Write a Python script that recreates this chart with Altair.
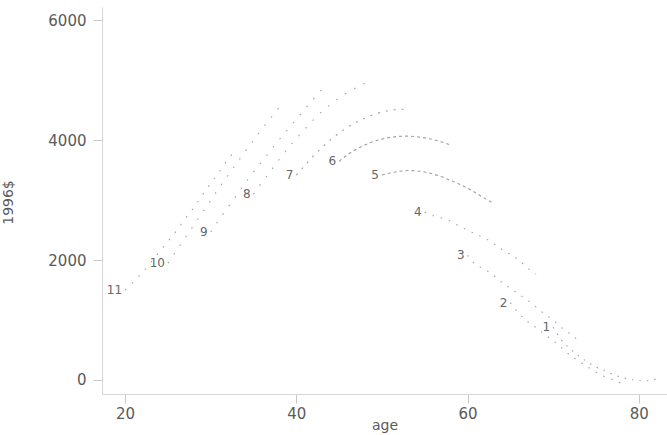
import altair as alt
import pandas as pd

# cohort start ages and age-profile values (1996$)
cohorts = ["1", "2", "3", "4", "5", "6", "7", "8", "9", "10", "11"]
start_ages = [70, 65, 60, 55, 50, 45, 40, 35, 30, 25, 20]

c1 = [880, 660, 520, 400, 300, 215, 160, 90, 45, 10, -15, -15, 15]
c2 = [1290, 1110, 980, 875, 760, 655, 535, 410, 310, 220, 130, 55, 5, -60]
c3 = [2080, 1920, 1850, 1750, 1630, 1530, 1430, 1330, 1220, 1100, 1000, 870, 770, 650]
c4 = [2800, 2740, 2700, 2650, 2570, 2500, 2430, 2370, 2280, 2180, 2100, 2000, 1870, 1770]
c5 = [3420, 3455, 3480, 3495, 3490, 3470, 3435, 3390, 3330, 3270, 3200, 3120, 3030, 2950]
c6 = [3650, 3760, 3850, 3920, 3980, 4020, 4050, 4065, 4070, 4060, 4040, 4010, 3970, 3920]
c7 = [3420, 3580, 3740, 3880, 4010, 4120, 4220, 4300, 4370, 4430, 4470, 4500, 4515, 4520]
c8 = [3100, 3300, 3490, 3680, 3860, 4030, 4190, 4340, 4480, 4600, 4710, 4800, 4880, 4950]
c9 = [2470, 2680, 2880, 3080, 3280, 3470, 3650, 3830, 4010, 4180, 4350, 4520, 4690, 4850]
c10 = [1950, 2160, 2370, 2580, 2790, 3000, 3210, 3410, 3610, 3810, 4000, 4190, 4370, 4550]
c11 = [1500, 1640, 1790, 1960, 2140, 2310, 2490, 2690, 2870, 3080, 3280, 3480, 3680, 3850]

series = [c1, c2, c3, c4, c5, c6, c7, c8, c9, c10, c11]

# line styles per cohort
dashes = {
    "1": [1.5, 6], "2": [1.5, 7], "3": [1.5, 7], "4": [1.5, 7],
    "5": [3, 3], "6": [3, 3], "7": [2, 6],
    "8": [1.5, 9], "9": [1.5, 9], "10": [1.5, 9], "11": [1.5, 8],
}

rows = []
for name, a0, vals in zip(cohorts, start_ages, series):
    for i, v in enumerate(vals):
        rows.append({"cohort": name, "age": a0 + i, "value": v})
df = pd.DataFrame(rows)
first = df.groupby("cohort", as_index=False).first()

xs = alt.Scale(domain=[17.3, 83.3], nice=False, zero=False)
ys = alt.Scale(domain=[-235, 6225], nice=False, zero=False)

axis_common = dict(
    grid=False, domainColor="#d6d6d6", tickColor="#c8c8c8", tickSize=9,
    labelColor="#5a5a5a", labelFont="DejaVu Sans", labelFontSize=15,
    titleColor="#5a5a5a", titleFont="DejaVu Sans", titleFontSize=14,
    titleFontWeight="normal",
)

x_enc = alt.X("age:Q", scale=xs, title="age",
              axis=alt.Axis(values=[20, 40, 60, 80], labelPadding=3,
                            titleY=31, titleBaseline="middle", **axis_common))
y_enc = alt.Y("value:Q", scale=ys, title="1996$",
              axis=alt.Axis(values=[0, 2000, 4000, 6000], format="d",
                            labelPadding=7, titleX=-94, titleY=195,
                            titleBaseline="middle", **axis_common))

layers = []
for name in cohorts:
    layers.append(
        alt.Chart(df[df.cohort == name])
        .mark_line(color="#a0a0a0", strokeWidth=1.1, strokeDash=dashes[name],
                   interpolate="monotone")
        .encode(x=x_enc, y=y_enc)
    )

labels = alt.Chart(first).mark_text(
    align="right", baseline="middle", dx=-3, fontSize=12,
    font="DejaVu Sans", color="#666666"
).encode(x=x_enc, y=y_enc, text="cohort:N")

chart = alt.layer(*layers, labels).properties(
    width=565, height=387,
    padding={"left": 102, "top": 7, "right": 0, "bottom": 41},
    autosize="none", background="white",
).configure_view(stroke=None)

chart.save("out.html", embed_options={"renderer": "svg", "actions": False})
